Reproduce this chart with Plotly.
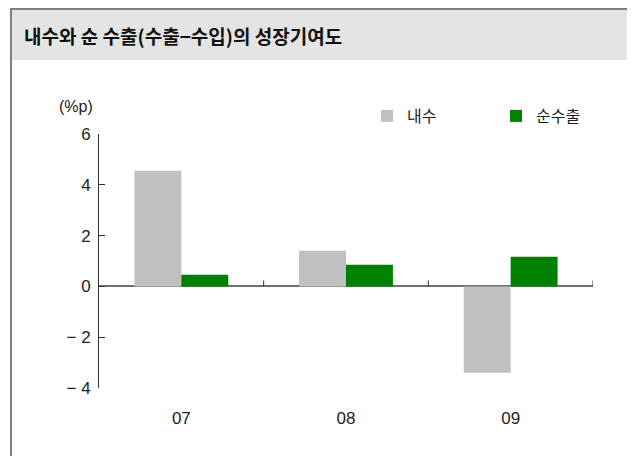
import plotly.graph_objects as go

categories = ["07", "08", "09"]
domestic = [4.55, 1.4, -3.4]      # 내수
net_export = [0.46, 0.85, 1.17]   # 순수출
y_tickvals = [-4, -2, 0, 2, 4, 6]
y_ticktext = ["\u2212 4", "\u2212 2", "0", "2", "4", "6"]

# page offset of the figure (default body margin)
OFF = 8
W, H = 635 - OFF, 456 - OFF
# plot area in page coordinates: x 99..593, y 134..388
L, R, T, B = 99 - OFF, 635 - 593, 134 - OFF, 456 - 388
pw, ph = W - L - R, H - T - B

def px(x):  # page x -> paper
    return (x - OFF - L) / pw

def py(y):  # page y -> paper
    return (H - B - (y - OFF)) / ph

FONT = "Liberation Sans, Arial, Noto Sans CJK KR, sans-serif"
KFONT = "Noto Sans CJK KR, sans-serif"

fig = go.Figure()
fig.add_trace(go.Bar(x=categories, y=domestic, name="내수", marker_color="#c0c0c0",
                     marker_line_width=0))
fig.add_trace(go.Bar(x=categories, y=net_export, name="순수출", marker_color="#008000",
                     marker_line_width=0))

shapes = []
# title band and frame
shapes.append(dict(type="rect", xref="paper", yref="paper", x0=px(11), x1=px(632),
                   y0=py(60), y1=py(9), fillcolor="#e4e4e4", line_width=0, layer="below"))
shapes.append(dict(type="line", xref="paper", yref="paper", x0=px(10), x1=px(633),
                   y0=py(9), y1=py(9), line=dict(color="#808080", width=2)))
shapes.append(dict(type="line", xref="paper", yref="paper", x0=px(11), x1=px(11),
                   y0=py(8), y1=py(460), line=dict(color="#808080", width=2)))
shapes.append(dict(type="line", xref="paper", yref="paper", x0=px(631.5), x1=px(631.5),
                   y0=py(8), y1=py(460), line=dict(color="#808080", width=2)))
# category boundary ticks on the zero line
tick_h = 6 * 10 / ph
for i in range(len(categories)):
    shapes.append(dict(type="line", xref="x", yref="y", x0=i + 0.5, x1=i + 0.5,
                       y0=0, y1=tick_h, line=dict(color="#333333", width=1)))

fig.update_layout(
    width=W, height=H,
    margin=dict(l=L, r=R, t=T, b=B, pad=0, autoexpand=False),
    paper_bgcolor="white", plot_bgcolor="white",
    barmode="group", bargap=0.43, bargroupgap=0,
    showlegend=True,
    legend=dict(orientation="h", x=px(367), y=py(116), xanchor="left", yanchor="middle",
                font=dict(family=KFONT, size=16, color="#222222"),
                entrywidth=84, entrywidthmode="pixels", traceorder="normal",
                bgcolor="rgba(0,0,0,0)"),
    shapes=shapes,
    xaxis=dict(range=[-0.5, 2.5], showgrid=False, showline=False, zeroline=False,
               ticks="outside", ticklen=15, tickcolor="rgba(0,0,0,0)",
               tickfont=dict(family=FONT, size=17, color="#222222"), fixedrange=True),
    yaxis=dict(range=[-4, 6], tickvals=y_tickvals, ticktext=y_ticktext,
               showgrid=False, showline=True, linecolor="#333333", linewidth=1,
               ticks="inside", ticklen=6, tickcolor="#333333", tickwidth=1,
               zeroline=True, zerolinecolor="#707070", zerolinewidth=2,
               ticklabelstandoff=4,
               tickfont=dict(family=FONT, size=17, color="#222222"), fixedrange=True),
    annotations=[
        dict(text="<b>내수와 순 수출(수출−수입)의 성장기여도</b>", xref="paper", yref="paper",
             x=px(22), y=py(35), xanchor="left", yanchor="middle", showarrow=False,
             font=dict(family=KFONT, size=19, color="#111111")),
        dict(text="(%p)", xref="paper", yref="paper", x=px(76), y=py(106),
             xanchor="center", yanchor="middle", showarrow=False,
             font=dict(family=FONT, size=16, color="#222222")),
    ],
)

fig.write_html("out.html")
